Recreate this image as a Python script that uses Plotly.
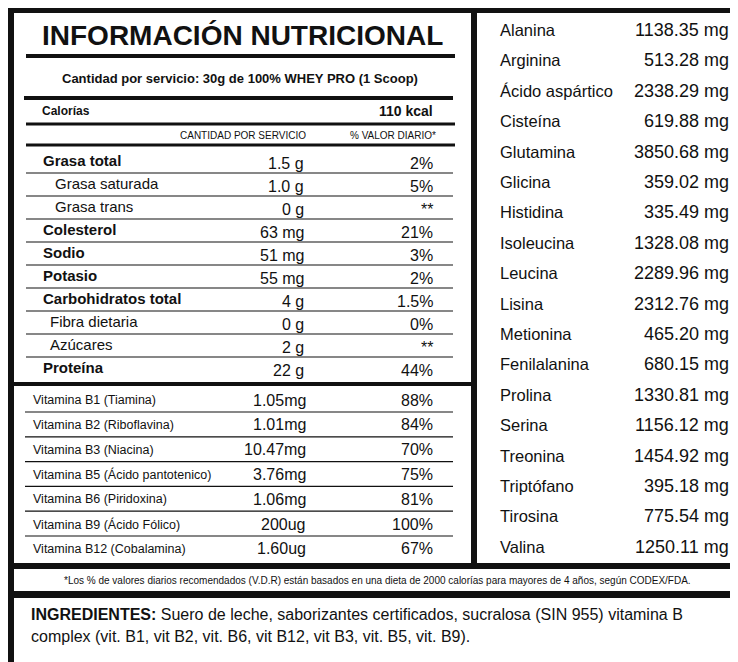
import plotly.graph_objects as go

# nutrientes (tabla principal)
nut_labels = ["Grasa total", "Grasa saturada", "Grasa trans", "Colesterol", "Sodio", "Potasio",
              "Carbohidratos total", "Fibra dietaria", "Azúcares", "Proteína"]
nut_amount = ["1.5 g", "1.0 g", "0 g", "63 mg", "51 mg", "55 mg", "4 g", "0 g", "2 g", "22 g"]
nut_pct = ["2%", "5%", "**", "21%", "3%", "2%", "1.5%", "0%", "**", "44%"]
nut_bold = [True, False, False, True, True, True, True, False, False, True]
nut_indent = [0, 12, 12, 0, 0, 0, 0, 7, 7, 0]

vit_labels = ["Vitamina B1 (Tiamina)", "Vitamina B2 (Riboflavina)", "Vitamina B3 (Niacina)",
              "Vitamina B5 (Ácido pantotenico)", "Vitamina B6 (Piridoxina)",
              "Vitamina B9 (Ácido Fólico)", "Vitamina B12 (Cobalamina)"]
vit_amount = ["1.05mg", "1.01mg", "10.47mg", "3.76mg", "1.06mg", "200ug", "1.60ug"]
vit_pct = ["88%", "84%", "70%", "75%", "81%", "100%", "67%"]

amino_labels = ["Alanina", "Arginina", "Ácido aspártico", "Cisteína", "Glutamina", "Glicina",
                "Histidina", "Isoleucina", "Leucina", "Lisina", "Metionina", "Fenilalanina",
                "Prolina", "Serina", "Treonina", "Triptófano", "Tirosina", "Valina"]
amino_values = [1138.35, 513.28, 2338.29, 619.88, 3850.68, 359.02, 335.49, 1328.08, 2289.96,
                2312.76, 465.20, 680.15, 1330.81, 1156.12, 1454.92, 395.18, 775.54, 1250.11]

FONT = "Liberation Sans, Arial"
ann = []
shapes = []

def txt(x, y, s, size, anchor="left", bold=False):
    if bold:
        s = "<b>" + s + "</b>"
    ann.append(dict(x=x, y=y, text=s, showarrow=False, xanchor=anchor, yanchor="middle",
                    font=dict(family=FONT, size=size, color="#111")))

def rect(x0, y0, x1, y1, color):
    shapes.append(dict(type="rect", x0=x0, y0=y0, x1=x1, y1=y1, fillcolor=color,
                       line=dict(width=0), layer="below"))

def hline(x0, x1, y, w):
    shapes.append(dict(type="line", x0=x0, x1=x1, y0=y, y1=y, line=dict(color="#111", width=w)))

# fondo negro y paneles blancos
rect(0, 0, 738, 662, "#111")
rect(6, 5, 463, 374, "white")
rect(6, 378, 463, 555, "white")
rect(469, 5, 732, 555, "white")
rect(6, 561, 732, 583, "white")
rect(6, 590, 732, 655, "white")

# cabecera
txt(234, 27, "INFORMACIÓN NUTRICIONAL", 28, "center", True)
hline(18, 447, 48, 4)
txt(232, 70, "Cantidad por servicio: 30g de 100% WHEY PRO (1 Scoop)", 13, "center", True)
hline(16, 445, 90, 4)
txt(32, 103, "Calorías", 12, bold=True)
txt(427, 103, "110 kcal", 14, "right", True)
hline(18, 447, 116, 3)
txt(300, 127, "CANTIDAD POR SERVICIO", 10, "right")
txt(430, 127, "% VALOR DIARIO*", 10, "right")
hline(18, 447, 137, 3)

# filas de nutrientes
for i, lab in enumerate(nut_labels):
    y = 152 + i * 23
    txt(33 + nut_indent[i], y, lab, 15, bold=nut_bold[i])
    txt(298, y + 3, nut_amount[i], 16, "right")
    txt(427, y + 3, nut_pct[i], 16, "right")
    if i < len(nut_labels) - 1:
        hline(18, 445, y + 13, 1.2)

# vitaminas
for i, lab in enumerate(vit_labels):
    y = 392 + i * 24.8
    txt(23, y, lab, 12.5)
    txt(300, y, vit_amount[i], 16, "right")
    txt(427, y, vit_pct[i], 16, "right")
    if i < len(vit_labels) - 1:
        hline(17, 445, y + 12, 1.2)

# aminoácidos
for i, lab in enumerate(amino_labels):
    y = 22 + i * 30.4
    txt(490, y, lab, 16.5)
    txt(723, y, f"{amino_values[i]:.2f} mg", 18, "right")

txt(369, 572, "*Los % de valores diarios recomendados (V.D.R) están basados en una dieta de 2000 calorías para mayores de 4 años, según CODEX/FDA.", 10, "center")
txt(21, 606, "<b>INGREDIENTES:</b> Suero de leche, saborizantes certificados, sucralosa (SIN 955) vitamina B", 16)
txt(21, 628, "complex (vit. B1, vit B2, vit. B6, vit B12, vit B3, vit. B5, vit. B9).", 16)

fig = go.Figure()
fig.update_layout(width=738, height=662, margin=dict(l=0, r=0, t=0, b=0),
                  plot_bgcolor="white", paper_bgcolor="#111",
                  xaxis=dict(range=[0, 738], visible=False, fixedrange=True),
                  yaxis=dict(range=[662, 0], visible=False, fixedrange=True),
                  shapes=shapes, annotations=ann, showlegend=False)
fig.write_html("out.html")
